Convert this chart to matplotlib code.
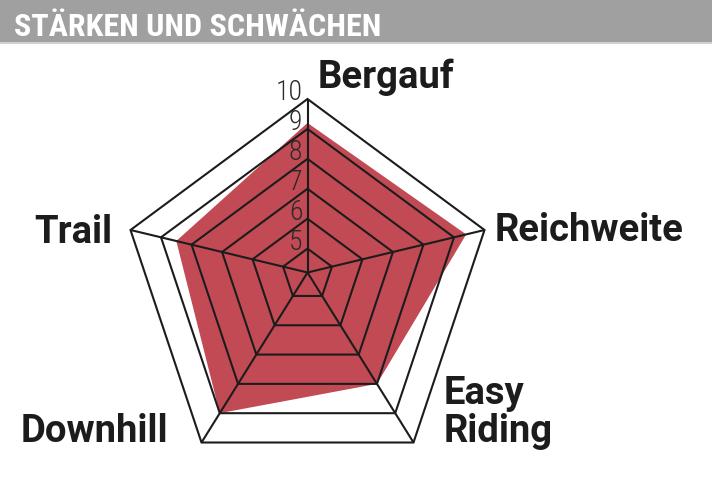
import matplotlib
matplotlib.use("Agg")
import matplotlib.pyplot as plt
from matplotlib import font_manager
from matplotlib.patches import Polygon, Rectangle
import numpy as np

# Daten
kategorien = ["Bergauf", "Reichweite", "Easy\nRiding", "Downhill", "Trail"]
werte = [9.2, 9.4, 8.0, 9.0, 8.5]
skala = [5, 6, 7, 8, 9, 10]
titel = "STÄRKEN UND SCHWÄCHEN"

# Layout in Pixeln (y nach unten)
W, H = 712, 493
mitte = np.array([307.5, 272.5])
# Achsenenden bei Wert 10, relativ zur Mitte (Fuenfeck unten etwas gestreckt)
achsen = np.array([[0, -173.5], [177, -42.5], [106, 170], [-106, 170], [-177, -42.5]])
v_mitte = 4.2
label_pos = [(318, 88), (495, 241), (444, 404), (21, 442), (34, 243)]
zeilen_abstand = 38

rot = "#c24a55"
schwarz = "#1c1c1c"


def font_waehlen(kandidaten):
    vorhanden = {f.name for f in font_manager.fontManager.ttflist}
    for k in kandidaten:
        if k in vorhanden:
            return k
    return "DejaVu Sans"


fett = font_waehlen(["Roboto", "Open Sans", "DejaVu Sans"])
schmal = font_waehlen(["Roboto Condensed", "Liberation Sans Narrow", "Roboto"])


def punkt(i, v):
    f = (v - v_mitte) / (10 - v_mitte)
    return mitte + f * achsen[i]


fig = plt.figure(figsize=(W / 100, H / 100), dpi=100)
ax = fig.add_axes([0, 0, 1, 1])
ax.set_xlim(0, W)
ax.set_ylim(H, 0)
ax.axis("off")

# Titelbalken
ax.add_patch(Rectangle((0, 0), W, 41.5, color="#a0a0a0", lw=0))
ax.add_patch(Rectangle((0, 41.5), W, 2, color="#d0d0d0", lw=0))
t = ax.text(14, 35.5, titel, color="white", fontsize=23, fontweight="bold",
            family=schmal, va="baseline")

# Werte-Flaeche
flaeche = [punkt(i, v) for i, v in enumerate(werte)]
ax.add_patch(Polygon(flaeche, closed=True, fc=rot, ec="none", zorder=1))

# Netz
for s in skala:
    ring = [punkt(i, s) for i in range(len(kategorien))]
    ax.add_patch(Polygon(ring, closed=True, fill=False, ec=schwarz, lw=1.5,
                         joinstyle="miter", zorder=2))
for i in range(len(kategorien)):
    ende = punkt(i, 10)
    ax.plot([mitte[0], ende[0]], [mitte[1], ende[1]], color=schwarz, lw=1.5,
            zorder=2, solid_capstyle="butt")

# Skala an der oberen Achse
for s in skala:
    p = punkt(0, s)
    ax.text(p[0] - 5, p[1] - 6.5, str(s), ha="right", va="center",
            fontsize=20, family=schmal, fontweight="light", color="#2a2a2a",
            zorder=3)

# Kategorien
for name, (x, y) in zip(kategorien, label_pos):
    for j, zeile in enumerate(name.split("\n")):
        ax.text(x, y + j * zeilen_abstand, zeile, ha="left", va="baseline",
                fontsize=27.5, fontweight="bold", family=fett, color=schwarz)

# Titel ungefaehr auf Breite bringen
fig.canvas.draw()
breite = t.get_window_extent().width
if breite > 375:
    t.set_fontsize(23 * 375 / breite)

fig.savefig("out.png", dpi=100)
